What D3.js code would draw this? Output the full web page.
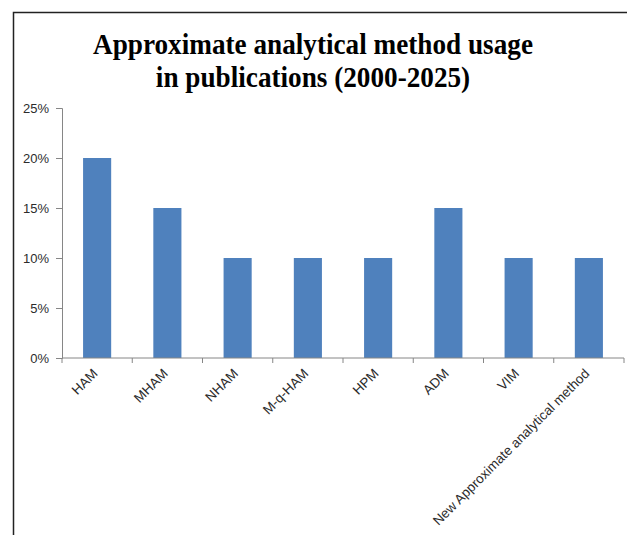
<!DOCTYPE html>
<html>
<head>
<meta charset="utf-8">
<script src="https://cdn.jsdelivr.net/npm/d3@7"></script>
<style>
  html, body { margin: 0; padding: 0; background: #fff; }
  svg { display: block; }
</style>
</head>
<body>
<svg id="chart" width="627" height="535"></svg>
<script>
// Share of publications by approximate analytical method, 2000-2025
const categories = ["HAM", "MHAM", "NHAM", "M-q-HAM", "HPM", "ADM", "VIM", "New Approximate analytical method"];
const usage = [0.20, 0.15, 0.10, 0.10, 0.10, 0.15, 0.10, 0.10];
const yTicks = [0, 0.05, 0.10, 0.15, 0.20, 0.25];
const titleLines = ["Approximate analytical method usage", "in publications (2000-2025)"];

const svg = d3.select("#chart");
const W = 627, H = 535;

// chart area border (runs off the right and bottom edges)
svg.append("path")
  .attr("d", `M13.5,${H + 2} V12.5 H${W + 2}`)
  .attr("fill", "none")
  .attr("stroke", "#222")
  .attr("stroke-width", 1.5);

// title, slightly condensed horizontally
const titleX = 313;
const title = svg.append("text")
  .attr("text-anchor", "middle")
  .attr("transform", `translate(${titleX},0) scale(0.907,1)`)
  .attr("font-family", "'Liberation Serif', 'Times New Roman', serif")
  .attr("font-weight", "bold")
  .attr("font-size", 30)
  .attr("fill", "#000");
titleLines.forEach((t, i) => {
  title.append("tspan").attr("x", 0).attr("y", 54 + i * 33).text(t);
});

const plot = { left: 62, right: 624, top: 108, bottom: 358 };

const x = d3.scaleBand()
  .domain(categories)
  .range([plot.left, plot.right])
  .paddingInner(0.6)
  .paddingOuter(0.3);

const y = d3.scaleLinear()
  .domain([0, 0.25])
  .range([plot.bottom, plot.top]);

const g = svg.append("g");

// bars
g.selectAll("rect.bar")
  .data(categories)
  .join("rect")
  .attr("class", "bar")
  .attr("x", d => x(d))
  .attr("width", x.bandwidth())
  .attr("y", (d, i) => y(usage[i]))
  .attr("height", (d, i) => y(0) - y(usage[i]))
  .attr("fill", "#4f81bd");

const axisColor = "#868686";
const labelFont = "'Liberation Sans', Arial, sans-serif";

// y axis
const yAxis = g.append("g")
  .attr("transform", `translate(${plot.left},0)`)
  .call(d3.axisLeft(y).tickValues(yTicks).tickFormat(d3.format(".0%")).tickSize(6).tickPadding(7));
yAxis.select(".domain").attr("stroke", axisColor);
yAxis.selectAll(".tick line").attr("stroke", axisColor);
yAxis.selectAll(".tick text")
  .attr("font-family", labelFont)
  .attr("font-size", 13)
  .attr("fill", "#2b2b2b");

// x axis: ticks fall on the boundaries between categories
const boundaries = d3.range(categories.length + 1).map(i => plot.left + i * (plot.right - plot.left) / categories.length);
const xAxis = g.append("g").attr("transform", `translate(0,${plot.bottom})`);
xAxis.append("line")
  .attr("x1", plot.left).attr("x2", plot.right)
  .attr("stroke", axisColor);
xAxis.selectAll("line.tick")
  .data(boundaries)
  .join("line")
  .attr("class", "tick")
  .attr("x1", d => d).attr("x2", d => d)
  .attr("y1", 0).attr("y2", 5)
  .attr("stroke", axisColor);
xAxis.selectAll("text")
  .data(categories)
  .join("text")
  .attr("transform", d => `translate(${x(d) + x.bandwidth() / 2 - 2},13) rotate(-45)`)
  .attr("text-anchor", "end")
  .attr("dy", "0.35em")
  .attr("font-family", labelFont)
  .attr("font-size", 13.5)
  .attr("fill", "#2b2b2b")
  .text(d => d);
</script>
</body>
</html>
